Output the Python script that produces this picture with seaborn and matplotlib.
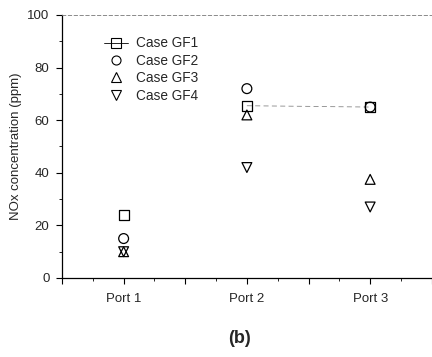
import pandas as pd
import matplotlib.pyplot as plt
import seaborn as sns
from matplotlib.lines import Line2D
from matplotlib.ticker import MultipleLocator

sns.set_theme(style='ticks')
plt.rcParams['font.family'] = ['Liberation Sans', 'DejaVu Sans']

# ── Data ─────────────────────────────────────────────
ports = ['Port 1', 'Port 2', 'Port 3']
gf1 = [24, 65.5, 65]
gf2 = [15, 72, 65]
gf3 = [10, 62, 37.5]
gf4 = [10, 42, 27]

cases = ['Case GF1', 'Case GF2', 'Case GF3', 'Case GF4']
markers = ['s', 'o', '^', 'v']

df = pd.DataFrame({'port': ports * 4,
                   'x': [1, 2, 3] * 4,
                   'case': [c for c in cases for _ in ports],
                   'nox': gf1 + gf2 + gf3 + gf4})

fig = plt.figure(figsize=(4.32, 3.57), dpi=100)
ax = fig.add_axes([0.1435, 0.2213, 0.856, 0.7367])

# GF1 connecting line (only visible between port 2 and port 3)
seg = df[(df['case'] == 'Case GF1') & (df['x'] >= 2)]
sns.lineplot(data=seg, x='x', y='nox', ax=ax, color='#888888',
             linewidth=0.6, linestyle=(0, (6, 4)), legend=False)

for case, m in zip(cases, markers):
    sub = df[df['case'] == case]
    sns.scatterplot(data=sub, x='x', y='nox', ax=ax, marker=m, s=50,
                    facecolor='none', edgecolor='black', linewidth=0.9,
                    legend=False, zorder=3)

ax.set_xlim(0.5, 3.5)
ax.set_ylim(0, 100)
ax.xaxis.set_minor_locator(MultipleLocator(0.25))
ax.set_xticks([0.5, 1, 1.5, 2, 2.5, 3, 3.5])
ax.set_xticklabels(['', 'Port 1', '', 'Port 2', '', 'Port 3', ''])
ax.yaxis.set_major_locator(MultipleLocator(20))
ax.yaxis.set_minor_locator(MultipleLocator(10))
ax.tick_params(which='major', length=4, width=0.8, labelsize=9.5,
               color='black', pad=5)
ax.tick_params(axis='x', which='major', pad=7)
ax.tick_params(which='minor', length=2, width=0.6, color='black')
ax.set_xlabel('')
ax.set_ylabel('NOx concentration (ppm)', fontsize=9.5, labelpad=4)

for s in ['left', 'bottom']:
    ax.spines[s].set_color('black')
    ax.spines[s].set_linewidth(0.9)
ax.spines['right'].set_visible(False)
ax.spines['top'].set_color('#777777')
ax.spines['top'].set_linewidth(0.6)
ax.spines['top'].set_linestyle((0, (4, 3)))

handles = [Line2D([], [], color='black', marker=m, mfc='none', ms=6.5,
                  mew=0.8, linestyle='-' if i == 0 else 'none', linewidth=0.6)
           for i, m in enumerate(markers)]
ax.legend(handles, cases, loc='upper left', bbox_to_anchor=(0.08, 0.965),
          frameon=False, fontsize=9.8, handlelength=1.8, labelspacing=0.25,
          handletextpad=0.6)

fig.text(0.555, 0.053, '(b)', ha='center', va='center', fontsize=13,
         fontweight='bold')

plt.savefig('out.png', dpi=100)
plt.close(fig)
